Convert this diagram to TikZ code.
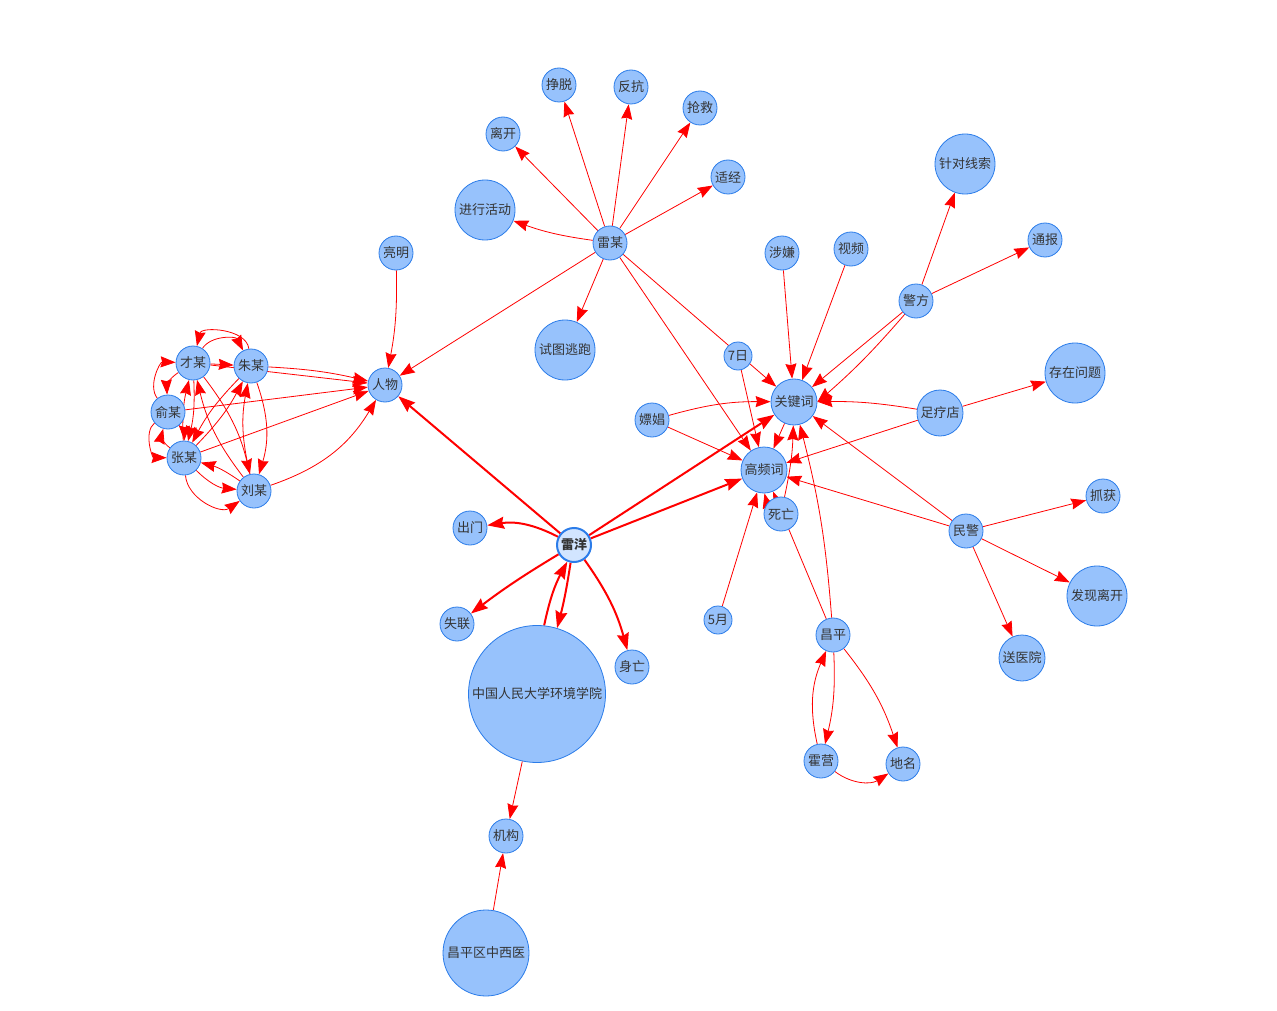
\documentclass[tikz,border=0pt]{standalone}
\usepackage{fontspec}
\setmainfont{Noto Sans CJK SC}
\usetikzlibrary{arrows.meta,backgrounds}
\definecolor{nfill}{HTML}{97C2FC}
\definecolor{nborder}{HTML}{2B7CE9}
\definecolor{selfill}{HTML}{D2E5FF}
\definecolor{txt}{HTML}{343434}
\definecolor{ered}{HTML}{FF0000}
\tikzset{
 nd/.style={circle, draw=nborder, fill=nfill, line width=0.8pt, inner sep=0pt, minimum size=34pt, text=txt, font=\fontsize{13}{13}\selectfont},
 nsm/.style={nd, minimum size=28pt},
 nmd/.style={nd, minimum size=46pt},
 nlg/.style={nd, minimum size=60pt},
 nsel/.style={nd, fill=selfill, line width=2pt, font=\fontsize{13}{13}\selectfont\bfseries},
 ed/.style={draw=ered, line width=0.8pt, -{Stealth[length=15pt,width=11pt,inset=1.5pt]}},
 edb/.style={draw=ered, line width=2pt, -{Stealth[length=17pt,width=12pt,inset=2pt]}},
}
\begin{document}
\begin{tikzpicture}[x=1pt,y=-1pt]
\useasboundingbox (0,0) rectangle (1277,1011);
% nodes
\node[nd] (zhengtuo) at (559,85) {挣脱};
\node[nd] (fankang) at (631,87) {反抗};
\node[nd] (qiangjiu) at (700,108) {抢救};
\node[nd] (likai) at (503,134) {离开};
\node[nd] (shijing) at (728,177) {适经};
\node[nlg] (jxhd) at (485,210) {进行活动};
\node[nd] (leimou) at (610,243) {雷某};
\node[nd] (liangming) at (396,253) {亮明};
\node[nd] (shexian) at (782,253) {涉嫌};
\node[nd] (shipin) at (851,249) {视频};
\node[nlg] (zdxs) at (965,164) {针对线索};
\node[nd] (tongbao) at (1045,240) {通报};
\node[nd] (jingfang) at (916,301) {警方};
\node[nlg] (sttp) at (565,350) {试图逃跑};
\node[nsm] (qiri) at (738,356) {7日};
\node[nd] (renwu) at (385,385) {人物};
\node[nmd] (gjc) at (794,402) {关键词};
\node[nlg] (czwt) at (1075,373) {存在问题};
\node[nmd] (zld) at (940,413) {足疗店};
\node[nd] (piaochang) at (652,420) {嫖娼};
\node[nmd] (gpc) at (764,470) {高频词};
\node[nd] (siwang) at (781,514) {死亡};
\node[nd] (caimou) at (193,363) {才某};
\node[nd] (zhumou) at (251,366) {朱某};
\node[nd] (yumou) at (168,412) {俞某};
\node[nd] (zhangmou) at (184,458) {张某};
\node[nd] (liumou) at (254,491) {刘某};
\node[nd] (zhuahuo) at (1103,496) {抓获};
\node[nd] (minjing) at (966,531) {民警};
\node[nd] (chumen) at (470,528) {出门};
\node[nsel] (leiyang) at (574,545) {雷洋};
\node[nlg] (fxlk) at (1097,596) {发现离开};
\node[nd] (shilian) at (457,624) {失联};
\node[nsm] (wuyue) at (718,620) {5月};
\node[nd] (changping) at (833,635) {昌平};
\node[nmd] (songyiyuan) at (1022,658) {送医院};
\node[nd] (shenwang) at (632,667) {身亡};
\node[nd, minimum size=137pt] (rmdx) at (537,694) {中国人民大学环境学院};
\node[nd] (huoying) at (821,761) {霍营};
\node[nd] (diming) at (903,764) {地名};
\node[nd] (jigou) at (506,836) {机构};
\node[nd, minimum size=86pt] (cpqzxy) at (486,953) {昌平区中西医};
% edges
\begin{scope}[on background layer]
\fill[white] (0,0) rectangle (1277,1011);
% 雷某
\draw[ed] (leimou) -- (zhengtuo);
\draw[ed] (leimou) -- (fankang);
\draw[ed] (leimou) -- (qiangjiu);
\draw[ed] (leimou) -- (likai);
\draw[ed] (leimou) -- (shijing);
\draw[ed] (leimou) to[bend left=6] (jxhd);
\draw[ed] (leimou) -- (sttp);
\draw[ed] (leimou) -- (renwu);
\draw[ed] (leimou) -- (gpc);
\draw[ed] (leimou) -- (gjc);
% 人物
\draw[ed] (liangming) to[bend left=6] (renwu);
\draw[ed] (caimou) -- (renwu);
\draw[ed] (zhumou) to[bend left=5] (renwu);
\draw[ed] (yumou) -- (renwu);
\draw[ed] (zhangmou) -- (renwu);
\draw[ed] (liumou) to[bend right=20] (renwu);
% cluster
\draw[ed] (caimou) to[bend left=60] (zhumou);
\draw[ed] (zhumou) to[bend right=80] (caimou);
\draw[ed] (caimou) -- (zhumou);
\draw[ed] (yumou) to[bend left=65] (caimou);
\draw[ed] (caimou) to[bend right=30] (yumou);
\draw[ed] (caimou) to[bend left=8] (zhangmou);
\draw[ed] (zhangmou) to[bend left=8] (caimou);
\draw[ed] (caimou) to[bend left=12] (liumou);
\draw[ed] (liumou) to[bend left=12] (caimou);
\draw[ed] (zhumou) to[bend right=8] (zhangmou);
\draw[ed] (zhangmou) to[bend right=8] (zhumou);
\draw[ed] (zhumou) to[bend left=18] (liumou);
\draw[ed] (liumou) to[bend left=12] (zhumou);
\draw[ed] (yumou) to[bend right=70] (zhangmou);
\draw[ed] (zhangmou) to[bend left=35] (yumou);
\draw[ed] (yumou) to[bend left=20] (zhangmou);
\draw[ed] (zhangmou) to[bend right=20] (liumou);
\draw[ed] (liumou) to[bend right=10] (zhangmou);
\draw[ed] (zhangmou) to[bend right=60] (liumou);
% 雷洋
\draw[edb] (leiyang) -- (renwu);
\draw[edb] (leiyang) -- (gjc);
\draw[edb] (leiyang) -- (gpc);
\draw[edb] (leiyang) to[bend right=18] (chumen);
\draw[edb] (leiyang) to[bend right=3] (shilian);
\draw[edb] (leiyang) to[bend left=3] (rmdx);
\draw[edb] (rmdx) to[bend left=8] (leiyang);
\draw[edb] (leiyang) to[bend left=10] (shenwang);
% 关键词 / 高频词
\draw[ed] (shexian) -- (gjc);
\draw[ed] (shipin) -- (gjc);
\draw[ed] (jingfang) -- (zdxs);
\draw[ed] (jingfang) -- (tongbao);
\draw[ed] (jingfang) -- (gjc);
\draw[ed] (jingfang) to[bend left=4] (gjc.east);
\draw[ed] (qiri) -- (gpc);
\draw[ed] (piaochang) to[bend left=8] (gjc);
\draw[ed] (piaochang) -- (gpc);
\draw[ed] (zld) to[bend right=5] (gjc);
\draw[ed] (zld) -- (gpc);
\draw[ed] (zld) -- (czwt);
\draw[ed] (minjing) -- (gjc);
\draw[ed] (minjing) -- (gpc);
\draw[ed] (minjing) -- (zhuahuo);
\draw[ed] (minjing) -- (fxlk);
\draw[ed] (minjing) -- (songyiyuan);
\draw[ed] (gjc) -- (gpc);
\draw[ed] (siwang) to[bend left=20] (gpc);
\draw[ed] (siwang) to[bend right=5] (gjc);
\draw[ed] (wuyue) -- (gpc);
\draw[ed] (changping) -- (gpc);
\draw[ed] (changping) to[bend right=5] (gjc);
\draw[ed] (changping) to[bend left=8] (huoying);
\draw[ed] (huoying) to[bend left=18] (changping);
\draw[ed] (changping) to[bend left=10] (diming);
\draw[ed] (huoying) to[bend right=35] (diming);
% 机构
\draw[ed] (rmdx) -- (jigou);
\draw[ed] (cpqzxy) -- (jigou);
\end{scope}
\end{tikzpicture}
\end{document}
